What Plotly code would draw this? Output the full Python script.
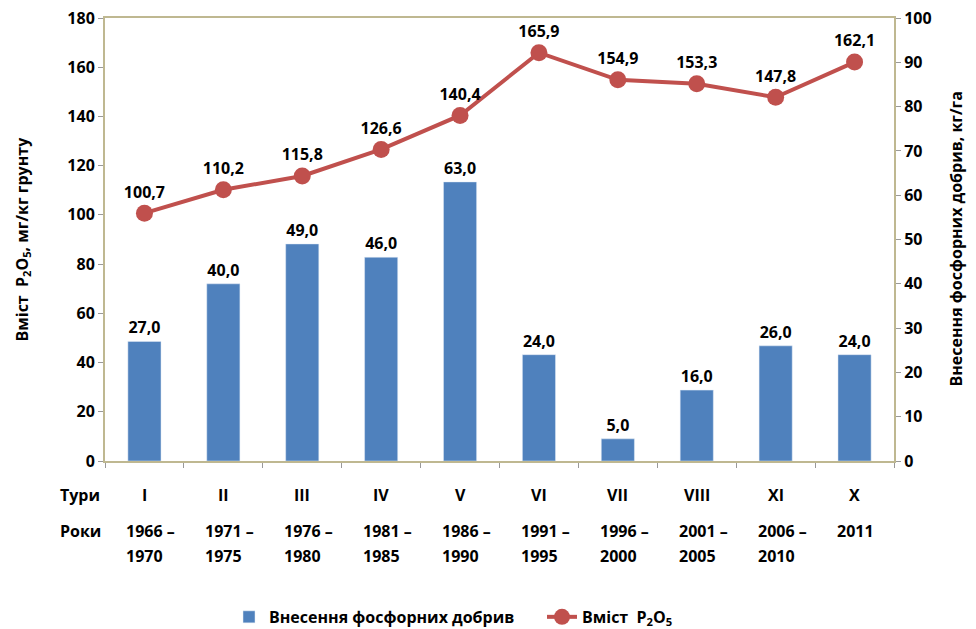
import plotly.graph_objects as go

tours = ["I", "II", "III", "IV", "V", "VI", "VII", "VIII", "XI", "X"]
years = ["1966 –<br>1970", "1971 –<br>1975", "1976 –<br>1980", "1981 –<br>1985",
         "1986 –<br>1990", "1991 –<br>1995", "1996 –<br>2000", "2001 –<br>2005",
         "2006 –<br>2010", "2011"]
fertilizer = [27.0, 40.0, 49.0, 46.0, 63.0, 24.0, 5.0, 16.0, 26.0, 24.0]
p2o5 = [100.7, 110.2, 115.8, 126.6, 140.4, 165.9, 154.9, 153.3, 147.8, 162.1]

FONT = "Open Sans"
FS = 16
frame = "#BFB891"
bold = dict(family=FONT, size=FS, color="black", weight="bold")

fig = go.Figure()
fig.add_trace(go.Bar(
    x=tours, y=fertilizer, name="Внесення фосфорних добрив",
    marker=dict(color="#4F81BD"), width=0.42, yaxis="y2",
    text=[f"{v:.1f}".replace(".", ",") for v in fertilizer],
    textposition="outside", cliponaxis=False, textfont=bold,
))
fig.add_trace(go.Scatter(
    x=tours, y=p2o5, name="Вміст  P<sub>2</sub>O<sub>5</sub>",
    mode="lines+markers+text",
    line=dict(color="#C0504D", width=4),
    marker=dict(color="#C0504D", size=17),
    text=[f"{v:.1f}".replace(".", ",") for v in p2o5],
    textposition="top center", cliponaxis=False, textfont=bold,
))

# bottom category labels
for t, yr in zip(tours, years):
    fig.add_annotation(x=t, xref="x", y=-0.0767, yref="paper", text=t, showarrow=False,
                       yanchor="middle", font=bold)
    parts = yr.split("<br>")
    for i, p in enumerate(parts):
        fig.add_annotation(x=t, xref="x", y=-0.158 - i * 0.0565, yref="paper", text=p,
                           showarrow=False, yanchor="middle", xanchor="left",
                           xshift=-20, font=bold)
fig.add_annotation(x=(80 - 105) / 789, xref="paper", y=-0.0767, yref="paper", text="Тури",
                   showarrow=False, xanchor="center", yanchor="middle", font=bold)
fig.add_annotation(x=(80 - 105) / 789, xref="paper", y=-0.158, yref="paper", text="Роки",
                   showarrow=False, xanchor="center", yanchor="middle", font=bold)

# axis titles
fig.add_annotation(x=(22 - 105) / 789, xref="paper", y=0.5, yref="paper",
                   text="Вміст  P<sub>2</sub>O<sub>5</sub>, мг/кг грунту", textangle=-90,
                   showarrow=False, xanchor="center", yanchor="middle", font=bold)
fig.add_annotation(x=(955 - 105) / 789, xref="paper", y=0.5, yref="paper",
                   text="Внесення фосфорних добрив, кг/га", textangle=-90,
                   showarrow=False, xanchor="center", yanchor="middle", font=bold)

fig.update_layout(
    width=976, height=629,
    margin=dict(l=97, r=90, t=10, b=176, autoexpand=False),
    plot_bgcolor="white", paper_bgcolor="white",
    font=dict(family=FONT, size=FS, color="black"),
    showlegend=True,
    legend=dict(orientation="h", x=(229 - 105) / 789, xanchor="left", y=-0.352,
                yanchor="middle", font=bold, entrywidth=268, entrywidthmode="pixels",
                traceorder="normal"),
    xaxis=dict(type="category", range=[-0.5, len(tours) - 0.5], showticklabels=False,
               ticks="outside", tickson="boundaries",
               ticklen=5, tickcolor="#999999", showline=True, linecolor=frame, linewidth=2,
               mirror=True, showgrid=False, automargin=False),
    yaxis=dict(range=[0, 180], dtick=20, ticks="outside", ticklen=5, tickcolor="#999999",
               showline=True, linecolor=frame, linewidth=2, showgrid=False, zeroline=False,
               tickfont=bold, automargin=False, ticklabeloverflow="allow"),
    yaxis2=dict(range=[0, 100], dtick=10, overlaying="y", side="right", ticks="outside",
                ticklen=5, tickcolor="#999999", showline=True, linecolor=frame, linewidth=2,
                showgrid=False, zeroline=False, tickfont=bold, automargin=False,
                ticklabeloverflow="allow"),
)

fig.write_html("out.html")
